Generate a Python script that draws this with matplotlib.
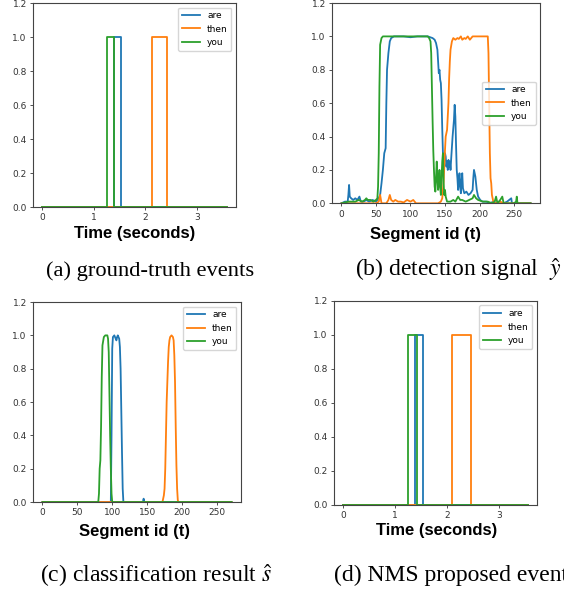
import matplotlib
matplotlib.use("Agg")
import matplotlib.pyplot as plt

plt.rcParams["mathtext.fontset"] = "stix"

labels = ["are", "then", "you"]
colors = ["#1f77b4", "#ff7f0e", "#2ca02c"]

# (a) ground-truth events: (start, end) in seconds
gt_end_time = 3.58
gt_are = (1.40, 1.52)
gt_then = (2.13, 2.42)
gt_you = (1.25, 1.40)

# (d) NMS proposed events: (start, end) in seconds
nms_end_time = 3.56
nms_are = (1.39, 1.54)
nms_then = (2.10, 2.47)
nms_you = (1.24, 1.43)

det_are_t = [0, 5, 9, 10, 11, 12, 14, 17, 20, 23, 26, 28, 32, 36, 40, 45, 50, 54, 56, 58,
             60, 62, 64, 65, 66, 68, 70, 72, 76, 90, 100, 110, 125, 132, 135, 137, 139, 140,
             141, 142, 143, 144, 145, 146, 147, 148, 149, 150, 151, 152, 153, 154, 155, 156,
             157, 158, 159, 161, 163, 164, 165, 166, 167, 168, 169, 170, 171, 172, 173, 174,
             175, 176, 178, 181, 184, 187, 190, 191, 192, 194, 196, 198, 201, 204, 210, 215,
             220, 225, 235, 240, 246, 247, 250, 274]
det_are_v = [0.0, 0.01, 0.01, 0.05, 0.11, 0.04, 0.03, 0.02, 0.03, 0.02, 0.04, 0.01, 0.01, 0.02,
             0.01, 0.02, 0.01, 0.03, 0.05, 0.12, 0.2, 0.3, 0.33, 0.6, 0.8, 0.9, 0.97, 0.99, 1.0,
             1.0, 0.995, 1.0, 1.0, 0.99, 0.98, 0.96, 0.92, 0.85, 0.78, 0.8, 0.74, 0.72, 0.62,
             0.45, 0.3, 0.28, 0.26, 0.3, 0.28, 0.22, 0.25, 0.2, 0.26, 0.22, 0.25, 0.2, 0.27,
             0.4, 0.5, 0.59, 0.52, 0.35, 0.2, 0.15, 0.08, 0.13, 0.18, 0.1, 0.06, 0.14, 0.18,
             0.09, 0.06, 0.07, 0.05, 0.06, 0.08, 0.15, 0.2, 0.16, 0.08, 0.04, 0.02, 0.01, 0.01,
             0.0, 0.01, 0.0, 0.0, 0.01, 0.03, 0.0, 0.0, 0.0]

det_then_t = [0, 50, 54, 56, 58, 65, 68, 70, 72, 75, 78, 82, 86, 90, 95, 100, 104, 108, 140,
              144, 146, 147, 148, 149, 150, 151, 152, 153, 155, 156, 157, 158, 160, 162, 165,
              168, 170, 173, 175, 178, 180, 183, 186, 188, 190, 200, 212, 213, 214, 215, 216,
              217, 218, 220, 222, 230, 235, 274]
det_then_v = [0.0, 0.0, 0.01, 0.05, 0.0, 0.0, 0.02, 0.05, 0.02, 0.01, 0.02, 0.01, 0.01, 0.005,
              0.02, 0.01, 0.02, 0.0, 0.0, 0.01, 0.03, 0.08, 0.13, 0.22, 0.32, 0.4, 0.42, 0.44,
              0.6, 0.75, 0.85, 0.92, 0.97, 0.99, 0.98, 0.99, 0.985, 1.0, 0.98, 0.99, 0.985, 1.0,
              0.98, 0.99, 1.0, 1.0, 1.0, 0.9, 0.6, 0.3, 0.15, 0.12, 0.05, 0.01, 0.0, 0.01, 0.0,
              0.0]

det_you_t = [0, 10, 20, 25, 30, 34, 36, 38, 42, 46, 50, 52, 53, 54, 55, 56, 58, 60, 80, 100,
             125, 127, 129, 130, 131, 132, 133, 134, 135, 136, 137, 138, 139, 140, 141, 142,
             143, 144, 145, 146, 147, 148, 149, 150, 151, 153, 158, 162, 165, 169, 172, 175,
             180, 185, 190, 192, 195, 198, 205, 212, 218, 222, 224, 226, 230, 233, 235, 240,
             250, 253, 254, 255, 274]
det_you_v = [0.0, 0.01, 0.01, 0.02, 0.01, 0.02, 0.03, 0.02, 0.02, 0.01, 0.02, 0.03, 0.1, 0.3,
             0.7, 0.95, 0.99, 1.0, 1.0, 1.0, 1.0, 0.99, 0.97, 0.9, 0.7, 0.5, 0.32, 0.2, 0.1,
             0.07, 0.15, 0.25, 0.15, 0.08, 0.12, 0.2, 0.1, 0.05, 0.15, 0.25, 0.3, 0.12, 0.05,
             0.08, 0.04, 0.01, 0.01, 0.02, 0.01, 0.04, 0.02, 0.02, 0.01, 0.02, 0.03, 0.05, 0.03,
             0.02, 0.01, 0.01, 0.0, 0.01, 0.04, 0.0, 0.02, 0.04, 0.0, 0.0, 0.0, 0.01, 0.04, 0.0,
             0.0]

# (c) classification result s_hat
cls_are_t = [0, 98, 99, 100, 101, 103, 104, 105, 106, 107, 108, 109, 110, 111, 112, 113, 114,
             115, 116, 144, 145, 146, 271]
cls_are_v = [0.0, 0.0, 0.4, 0.92, 0.99, 1.0, 0.99, 0.98, 0.97, 0.99, 1.0, 0.99, 0.98, 0.93,
             0.8, 0.55, 0.3, 0.08, 0.0, 0.0, 0.02, 0.0, 0.0]

cls_then_t = [0, 172, 174, 175, 176, 177, 178, 179, 180, 181, 182, 183, 185, 187, 188, 189,
              190, 191, 192, 193, 194, 195, 271]
cls_then_v = [0.0, 0.0, 0.04, 0.08, 0.2, 0.4, 0.6, 0.72, 0.84, 0.93, 0.97, 0.99, 1.0, 0.99,
              0.97, 0.88, 0.72, 0.45, 0.22, 0.08, 0.01, 0.0, 0.0]

cls_you_t = [0, 80, 81, 82, 83, 84, 85, 86, 88, 90, 93, 94, 95, 96, 97, 98, 99, 100, 271]
cls_you_v = [0.0, 0.0, 0.05, 0.2, 0.25, 0.45, 0.75, 0.94, 0.99, 1.0, 1.0, 0.98, 0.9, 0.65,
             0.4, 0.2, 0.05, 0.0, 0.0]


def box(event, end_time):
    t0, t1 = event
    return [0, t0, t0, t1, t1, end_time], [0, 0, 1, 1, 0, 0]


def style_axes(ax, xlabel, label_x, label_y, legend_loc):
    ax.set_ylim(0, 1.2)
    ax.tick_params(labelsize=6.5, length=2.5, width=0.6, pad=2, colors="#333333")
    for s in ax.spines.values():
        s.set_linewidth(0.8)
        s.set_color("#444444")
    ax.set_xlabel(xlabel, fontsize=12, fontweight="bold", family="Liberation Sans", va="center")
    ax.xaxis.set_label_coords(label_x, label_y)
    ax.legend(loc=legend_loc, fontsize=6.5)


fig = plt.figure(figsize=(5.64, 5.92), dpi=100)

ax_a = fig.add_axes([0.0585, 0.6503, 0.3599, 0.3446])
for lab, col, ev in zip(labels, colors, [gt_are, gt_then, gt_you]):
    xs, ys = box(ev, gt_end_time)
    ax_a.plot(xs, ys, color=col, lw=1.3, label=lab)
style_axes(ax_a, "Time (seconds)", 0.5, -0.129, "upper right")

ax_b = fig.add_axes([0.5887, 0.6566, 0.3688, 0.3383])
for lab, col, t, v in zip(labels, colors, [det_are_t, det_then_t, det_you_t],
                          [det_are_v, det_then_v, det_you_v]):
    ax_b.plot(t, v, color=col, lw=1.3, label=lab)
style_axes(ax_b, "Segment id (t)", 0.449, -0.155, "center right")

ax_c = fig.add_axes([0.0585, 0.152, 0.3688, 0.3378])
for lab, col, t, v in zip(labels, colors, [cls_are_t, cls_then_t, cls_you_t],
                          [cls_are_v, cls_then_v, cls_you_v]):
    ax_c.plot(t, v, color=col, lw=1.3, label=lab)
style_axes(ax_c, "Segment id (t)", 0.489, -0.145, "upper right")

ax_d = fig.add_axes([0.5922, 0.147, 0.3599, 0.3446])
for lab, col, ev in zip(labels, colors, [nms_are, nms_then, nms_you]):
    xs, ys = box(ev, nms_end_time)
    ax_d.plot(xs, ys, color=col, lw=1.3, label=lab)
style_axes(ax_d, "Time (seconds)", 0.505, -0.127, "upper right")

cap = dict(family="Liberation Serif", ha="left", va="baseline")
fig.text(46.5 / 564, 1 - 276 / 592, "(a) ground-truth events", fontsize=16.2, **cap)
fig.text(355 / 564, 1 - 276 / 592, r"(b) detection signal  $\hat{y}$", fontsize=17, **cap)
fig.text(40 / 564, 1 - 582 / 592, r"(c) classification result $\hat{s}$", fontsize=17, **cap)
fig.text(334 / 564, 1 - 581 / 592, "(d) NMS proposed events", fontsize=17, **cap)

fig.savefig("out.png", dpi=100)
